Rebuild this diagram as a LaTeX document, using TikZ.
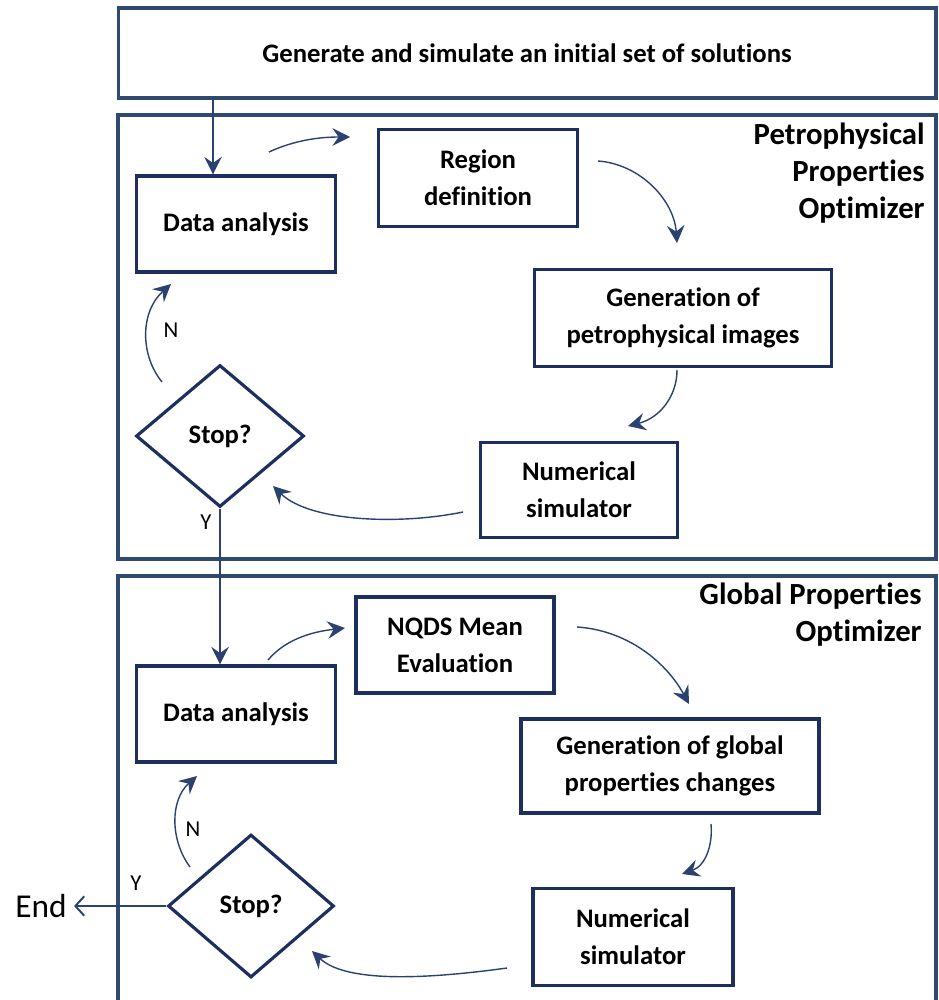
\documentclass[tikz,border=0pt]{standalone}
\usepackage{fontspec}
\setmainfont{Carlito}[Ligatures=NoCommon]
\usetikzlibrary{arrows.meta,shapes.geometric}
\definecolor{navy}{HTML}{1C2F5F}
\definecolor{framec}{HTML}{2E4A70}
\definecolor{connc}{HTML}{2B4270}
\begin{document}
\begin{tikzpicture}[x=0.02cm,y=-0.02cm,
  box/.style={draw=navy,line width=1.8pt,fill=white,inner sep=0pt,align=center,
    font=\fontsize{15.2}{21}\selectfont\bfseries},
  dia/.style={diamond,draw=navy,line width=1.8pt,fill=white,inner sep=0pt,
    font=\fontsize{15.2}{21}\selectfont\bfseries},
  frm/.style={draw=framec,line width=1.8pt},
  conn/.style={draw=connc,line width=0.8pt,-{Stealth[length=10pt,width=10pt,inset=3.5pt]}},
  hdr/.style={align=right,anchor=east,inner sep=0pt,
    font=\fontsize{17.5}{21}\selectfont\bfseries},
  lbl/.style={inner sep=0pt,font=\fontsize{13}{15}\selectfont}]
\useasboundingbox (0,0) rectangle (938,1000);

% frames
\draw[frm] (118,115) rectangle (936,559);
\draw[frm] (118,576) rectangle (936,1012);
\node[box,draw=framec,line width=1.8pt,minimum width=16.36cm,minimum height=1.8cm] (top) at (527,53)
  {Generate and simulate an initial set of solutions};

% headers
\node[hdr] (h1) at (925,173) {Petrophysical\\Properties\\Optimizer};
\node[hdr] (h2) at (922,615) {Global Properties\\Optimizer};

% upper loop
\node[box,minimum width=3.98cm,minimum height=1.92cm] (da1) at (236,224) {Data analysis};
\node[box,minimum width=3.98cm,minimum height=1.94cm] (reg) at (478,178) {Region\\definition};
\node[box,minimum width=5.94cm,minimum height=1.94cm] (gen1) at (683,318) {Generation of\\petrophysical images};
\node[box,minimum width=3.94cm,minimum height=1.9cm] (num1) at (579,490) {Numerical\\simulator};
\node[dia,minimum width=3.36cm,minimum height=2.84cm] (stop1) at (220,436) {Stop?};

% lower loop
\node[box,minimum width=3.98cm,minimum height=1.92cm] (da2) at (236,714) {Data analysis};
\node[box,minimum width=3.96cm,minimum height=1.92cm] (nqds) at (455,645) {NQDS Mean\\Evaluation};
\node[box,minimum width=5.96cm,minimum height=1.88cm] (gen2) at (670,766) {Generation of global\\properties changes};
\node[box,minimum width=4.0cm,minimum height=1.94cm] (num2) at (633,937) {Numerical\\simulator};
\node[dia,minimum width=3.32cm,minimum height=2.86cm] (stop2) at (251,906) {Stop?};

% labels
\node[lbl] (n1) at (171,330) {N};
\node[lbl] (y1) at (206,522) {Y};
\node[lbl] (n2) at (193,829) {N};
\node[lbl] (y2) at (136,883) {Y};
\node[inner sep=4pt,font=\fontsize{19}{22}\selectfont] (end) at (41,906) {End};

% straight connectors
\coordinate (tx) at (213,0);
\draw[conn,line width=1pt] (top.south -| tx) -- (da1.north -| tx);
\draw[conn,line width=1pt] (stop1.south) -- (stop1.south |- da2.north);
\draw[draw=connc,line width=1.1pt,-{Straight Barb[length=5pt,width=11pt]}] (stop2.west) -- (end.east);

% curved connectors (free ends)
\coordinate (a1) at (269,152); \coordinate (b1) at (350,137);
\coordinate (a2) at (598,161); \coordinate (b2) at (677,243);
\coordinate (a3) at (677,370); \coordinate (b3) at (628,426);
\coordinate (a4) at (463,512); \coordinate (b4) at (273,486);
\coordinate (a5) at (162,382); \coordinate (b5) at (171,284);
\coordinate (a6) at (268,660); \coordinate (b6) at (345,628);
\coordinate (a7) at (577,627); \coordinate (b7) at (689,704);
\coordinate (a8) at (711,824); \coordinate (b8) at (682,874);
\coordinate (a9) at (507,968); \coordinate (b9) at (312,951);
\coordinate (a10) at (190,867); \coordinate (b10) at (197,776);

\draw[conn] (a1) .. controls (295,140) and (320,137) .. (b1);
\draw[conn] (a2) .. controls (640,164) and (674,200) .. (b2);
\draw[conn] (a3) .. controls (677,396) and (660,418) .. (b3);
\draw[conn] (a4) .. controls (400,525) and (310,522) .. (b4);
\draw[conn] (a5) .. controls (140,355) and (140,312) .. (b5);
\draw[conn] (a6) .. controls (285,640) and (310,632) .. (b6);
\draw[conn] (a7) .. controls (625,630) and (665,660) .. (b7);
\draw[conn] (a8) .. controls (713,846) and (705,866) .. (b8);
\draw[conn] (a9) .. controls (420,980) and (345,982) .. (b9);
\draw[conn] (a10) .. controls (170,840) and (170,800) .. (b10);
\end{tikzpicture}
\end{document}
